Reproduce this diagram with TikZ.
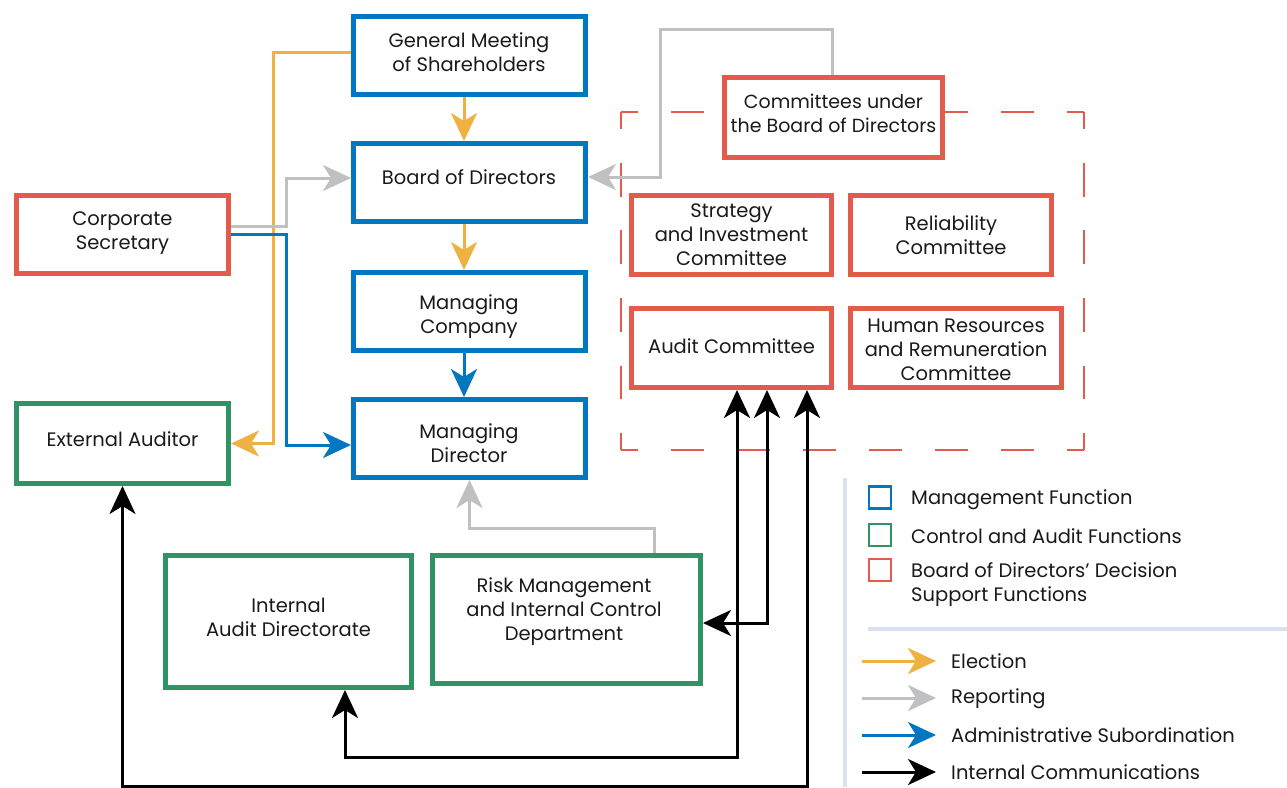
\documentclass[tikz,border=0pt]{standalone}
\usepackage{fontspec}
\setmainfont{Poppins}
\usetikzlibrary{arrows.meta}
\definecolor{cblue}{HTML}{0077C0}
\definecolor{cred}{HTML}{E35B4A}
\definecolor{cgreen}{HTML}{2F9464}
\definecolor{cyellow}{HTML}{F0B143}
\definecolor{cgrey}{HTML}{C0C0C3}
\definecolor{clegend}{HTML}{DAE2F2}
\definecolor{ctext}{HTML}{1A1A1A}
\tikzset{
  box/.style={draw, line width=5pt, fill=white, inner sep=0pt},
  mbox/.style={box, draw=cblue},
  rbox/.style={box, draw=cred},
  gbox/.style={box, draw=cgreen},
  txt/.style={align=center, inner sep=0pt, text=ctext, font=\fontsize{19.5}{24}\selectfont},
  tip/.style={-{Stealth[length=28pt,width=26pt,inset=8pt]}},
  both/.style={{Stealth[length=28pt,width=26pt,inset=8pt]}-{Stealth[length=28pt,width=26pt,inset=8pt]}},
  conn/.style={line width=3pt},
  elec/.style={conn, draw=cyellow, color=cyellow},
  rep/.style={conn, draw=cgrey, color=cgrey},
  adm/.style={conn, draw=cblue, color=cblue},
  intc/.style={conn, draw=black, color=black},
  legtxt/.style={anchor=west, inner sep=0pt, text=ctext, align=left, font=\fontsize{19.5}{24}\selectfont},
  legsq/.style={line width=2.5pt, minimum size=22pt, inner sep=0pt},
  dashh/.style={draw=cred, line width=2pt, dash pattern=on 33.07pt off 33.07pt, dash phase=16.5pt},
  dashv/.style={draw=cred, line width=2pt, dash pattern=on 33.8pt off 33.8pt, dash phase=16.9pt}
}
\begin{document}
\begin{tikzpicture}[x=1pt,y=-1pt]
\useasboundingbox[fill=white] (0,0) rectangle (1287,787);

% dashed frame
\draw[dashh] (621,112) -- (1084,112);
\draw[dashh] (621,450) -- (1084,450);
\draw[dashv] (621,112) -- (621,450);
\draw[dashv] (1084,112) -- (1084,450);

% legend lines
\draw[clegend, line width=4pt] (845,478) -- (845,787);
\draw[clegend, line width=4pt] (868,629) -- (1287,629);

% boxes
\node[mbox, minimum width=232pt, minimum height=78pt] (gm) at (469.5,55.5) {};
\node[mbox, minimum width=232pt, minimum height=78pt] (bd) at (469.5,182.5) {};
\node[mbox, minimum width=232pt, minimum height=78pt] (mc) at (469.5,311.5) {};
\node[mbox, minimum width=232pt, minimum height=78pt] (md) at (469.5,438.5) {};
\node[rbox, minimum width=212pt, minimum height=78pt] (cs) at (122.5,234.5) {};
\node[gbox, minimum width=212pt, minimum height=80pt] (ea) at (122.5,443.5) {};
\node[rbox, minimum width=218pt, minimum height=80pt] (com) at (833.5,117.5) {};
\node[rbox, minimum width=200pt, minimum height=79pt] (sic) at (731.5,235) {};
\node[rbox, minimum width=201pt, minimum height=79pt] (rel) at (951,235) {};
\node[rbox, minimum width=200pt, minimum height=79pt] (ac) at (731.5,348) {};
\node[rbox, minimum width=211pt, minimum height=79pt] (hr) at (956,348) {};
\node[gbox, minimum width=246pt, minimum height=132pt] (iad) at (288.5,621.5) {};
\node[gbox, minimum width=268pt, minimum height=128pt] (rmd) at (566.5,619.5) {};

% box texts
\node[txt] (gmT) at (469,52) {General Meeting\\of Shareholders};
\node[txt] (bdT) at (469,177.5) {Board of Directors};
\node[txt] (mcT) at (469,317) {Managing\\Company};
\node[txt] (mdT) at (469,443) {Managing\\Director};
\node[txt] (csT) at (122.5,233) {Corporate\\Secretary};
\node[txt] (eaT) at (122.5,439) {External Auditor};
\node[txt, font=\fontsize{19}{24}\selectfont] (comT) at (833.5,113) {Committees under\\the Board of Directors};
\node[txt] (sicT) at (731.5,235) {Strategy\\and Investment\\Committee};
\node[txt] (relT) at (951,235) {Reliability\\Committee};
\node[txt] (acT) at (731.5,346) {Audit Committee};
\node[txt] (hrT) at (956,350) {Human Resources\\and Remuneration\\Committee};
\node[txt] (iadT) at (288.5,617) {Internal\\Audit Directorate};
\node[txt] (rmdT) at (564,612) {Risk Management\\and Internal Control\\Department};

% connectors
\draw[elec, tip] ([yshift=3.5pt]gm.west) -- (273,52) |- (ea.east);
\draw[elec, tip] ([xshift=-5.5pt]gm.south) -- ([xshift=-5.5pt]bd.north);
\draw[elec, tip] ([xshift=-5.5pt]bd.south) -- ([xshift=-5.5pt]mc.north);
\draw[adm, tip] ([xshift=-5.5pt]mc.south) -- ([xshift=-5.5pt]md.north);
\draw[rep, tip] ([yshift=8.5pt]cs.east) -- (286,226) |- ([yshift=4.5pt]bd.west);
\draw[adm, tip] (cs.east) -- (286,234.5) |- ([yshift=-6.5pt]md.west);
\draw[rep, tip] ([xshift=-1.5pt]com.north) -- (832,29) -- (660,29) -- (660,177) -- ([yshift=5.5pt]bd.east);
\draw[rep, tip] ([xshift=87.5pt]rmd.north) -- (654,528) -| (md.south);
\draw[intc, both] ([xshift=56.5pt]iad.south) -- (345,757) -- (737,757) -- ([xshift=5.5pt]ac.south);
\draw[intc, both] ([yshift=-3.5pt]rmd.east) -- (767,623) -- ([xshift=35.5pt]ac.south);
\draw[intc, both] (ea.south) -- (122.5,786) -- (807,786) -- ([xshift=75.5pt]ac.south);

% legend
\node[legsq, draw=cblue] (s1) at (880,497.5) {};
\node[legsq, draw=cgreen] (s2) at (880,535) {};
\node[legsq, draw=cred] (s3) at (880,570) {};
\node[legtxt] (t1) at (911,500) {Management Function};
\node[legtxt] (t2) at (911,536) {Control and Audit Functions};
\node[legtxt] (t3) at (911,585) {Board of Directors’ Decision\\Support Functions};

\coordinate (a1s) at (862,661); \coordinate (a1e) at (936,661);
\coordinate (a2s) at (862,698); \coordinate (a2e) at (936,698);
\coordinate (a3s) at (862,735); \coordinate (a3e) at (936,735);
\coordinate (a4s) at (862,772); \coordinate (a4e) at (936,772);
\draw[elec, tip] (a1s) -- (a1e);
\draw[rep, tip] (a2s) -- (a2e);
\draw[adm, tip] (a3s) -- (a3e);
\draw[intc, tip] (a4s) -- (a4e);
\node[legtxt] (l1) at (951,661) {Election};
\node[legtxt] (l2) at (951,699) {Reporting};
\node[legtxt] (l3) at (951,735) {Administrative Subordination};
\node[legtxt] (l4) at (951,772) {Internal Communications};
\end{tikzpicture}
\end{document}
